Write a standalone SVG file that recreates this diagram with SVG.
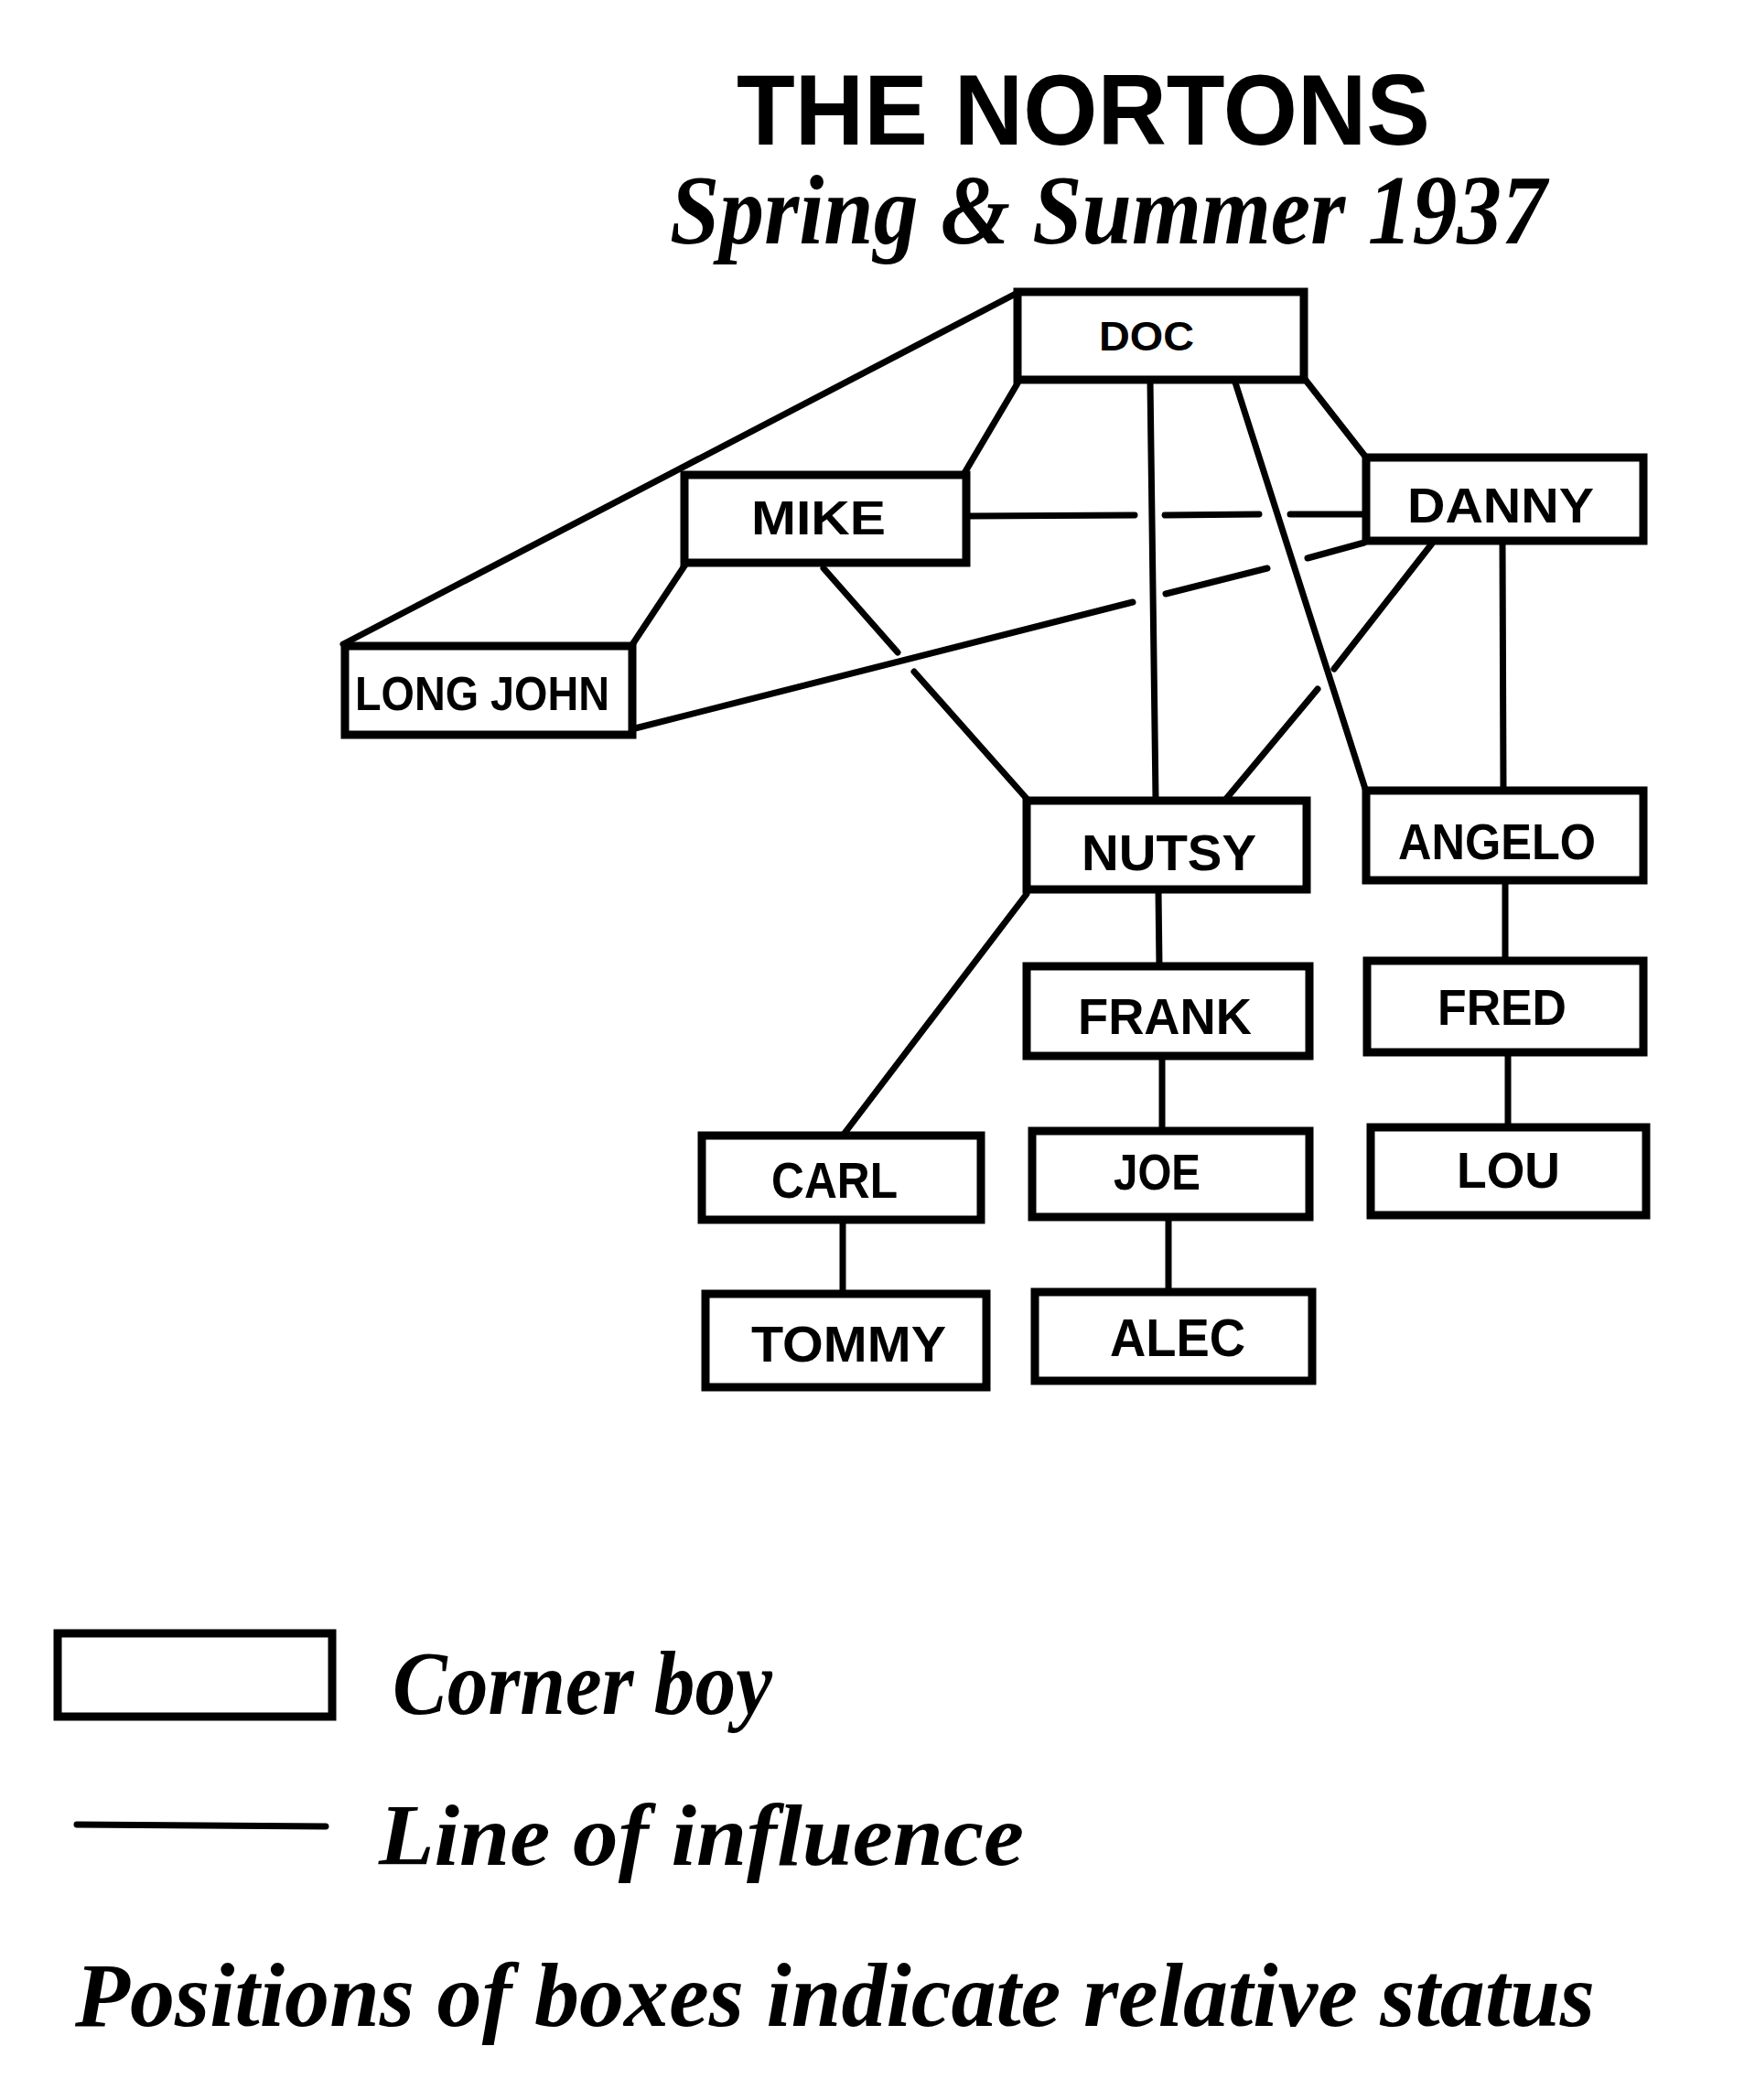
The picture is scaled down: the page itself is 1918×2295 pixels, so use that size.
<svg xmlns="http://www.w3.org/2000/svg" width="1918" height="2295" viewBox="0 0 1918 2295">
<style>
  .box { fill: none; stroke: #000; stroke-width: 9; stroke-linejoin: miter; }
  .lbl { font-family: "Liberation Sans", Arial, sans-serif; font-weight: bold; fill: #000; text-anchor: start; }
  .ln { fill: none; stroke: #000; stroke-width: 7; stroke-linecap: round; }
  .script { font-family: "Liberation Serif", "Times New Roman", serif; font-style: italic; font-weight: bold; fill: #000; }
</style>
<rect width="1918" height="2295" fill="#fff"/>

<text class="lbl" x="805" y="158" font-size="110" textLength="758" lengthAdjust="spacingAndGlyphs">THE NORTONS</text>
<text class="script" x="732" y="266" font-size="108" textLength="958" lengthAdjust="spacingAndGlyphs">Spring &amp; Summer 1937</text>

<g id="connectors">
  <line class="ln" x1="375" y1="704" x2="1110" y2="321"/>
  <line class="ln" x1="1054" y1="517" x2="1112" y2="419"/>
  <line class="ln" x1="749" y1="617" x2="690" y2="706"/>
  <path class="ln" d="M1058 564 L1240 563 M1273 563 L1376 562 M1410 562 L1491 562"/>
  <path class="ln" d="M694 796 L1238 658 M1274 649 L1385 621 M1429 610 L1491 593"/>
  <path class="ln" d="M900 621 L981 713 M999 734 L1124 875"/>
  <line class="ln" x1="1257" y1="417" x2="1263" y2="873"/>
  <line class="ln" x1="1350" y1="418" x2="1492" y2="862"/>
  <line class="ln" x1="1425" y1="413" x2="1493" y2="500"/>
  <path class="ln" d="M1565 594 L1458 731 M1440 753 L1340 873"/>
  <line class="ln" x1="1642" y1="593" x2="1643" y2="864"/>
  <line class="ln" x1="1645" y1="964" x2="1645" y2="1050"/>
  <line class="ln" x1="1648" y1="1152" x2="1648" y2="1232"/>
  <line class="ln" x1="1266" y1="974" x2="1267" y2="1056"/>
  <line class="ln" x1="1270" y1="1156" x2="1270" y2="1236"/>
  <line class="ln" x1="1277" y1="1332" x2="1277" y2="1412"/>
  <line class="ln" x1="1122" y1="977" x2="921" y2="1241"/>
  <line class="ln" x1="921" y1="1335" x2="921" y2="1414"/>
</g>

<g id="node-doc">
  <rect class="box" x="1112" y="319" width="313" height="96"/>
  <text class="lbl" x="1201" y="383" font-size="45" textLength="104" lengthAdjust="spacingAndGlyphs">DOC</text>
</g>
<g id="node-mike">
  <rect class="box" x="748" y="519" width="308" height="96"/>
  <text class="lbl" x="821" y="584" font-size="52" textLength="147" lengthAdjust="spacingAndGlyphs">MIKE</text>
</g>
<g id="node-danny">
  <rect class="box" x="1493" y="500" width="303" height="91"/>
  <text class="lbl" x="1538" y="571" font-size="54" textLength="204" lengthAdjust="spacingAndGlyphs">DANNY</text>
</g>
<g id="node-longjohn">
  <rect class="box" x="377" y="706" width="314" height="97"/>
  <text class="lbl" x="388" y="776" font-size="52" textLength="278" lengthAdjust="spacingAndGlyphs">LONG JOHN</text>
</g>
<g id="node-nutsy">
  <rect class="box" x="1122" y="875" width="306" height="97"/>
  <text class="lbl" x="1182" y="951" font-size="56" textLength="191" lengthAdjust="spacingAndGlyphs">NUTSY</text>
</g>
<g id="node-angelo">
  <rect class="box" x="1493" y="864" width="303" height="98"/>
  <text class="lbl" x="1528" y="939" font-size="56" textLength="216" lengthAdjust="spacingAndGlyphs">ANGELO</text>
</g>
<g id="node-frank">
  <rect class="box" x="1122" y="1056" width="309" height="98"/>
  <text class="lbl" x="1178" y="1130" font-size="56" textLength="190" lengthAdjust="spacingAndGlyphs">FRANK</text>
</g>
<g id="node-fred">
  <rect class="box" x="1494" y="1050" width="302" height="100"/>
  <text class="lbl" x="1571" y="1120" font-size="56" textLength="141" lengthAdjust="spacingAndGlyphs">FRED</text>
</g>
<g id="node-carl">
  <rect class="box" x="767" y="1241" width="305" height="92"/>
  <text class="lbl" x="843" y="1309" font-size="55" textLength="138" lengthAdjust="spacingAndGlyphs">CARL</text>
</g>
<g id="node-joe">
  <rect class="box" x="1128" y="1236" width="303" height="94"/>
  <text class="lbl" x="1217" y="1300" font-size="55" textLength="95" lengthAdjust="spacingAndGlyphs">JOE</text>
</g>
<g id="node-lou">
  <rect class="box" x="1498" y="1232" width="301" height="96"/>
  <text class="lbl" x="1592" y="1298" font-size="55" textLength="113" lengthAdjust="spacingAndGlyphs">LOU</text>
</g>
<g id="node-tommy">
  <rect class="box" x="771" y="1414" width="307" height="102"/>
  <text class="lbl" x="821" y="1488" font-size="55" textLength="213" lengthAdjust="spacingAndGlyphs">TOMMY</text>
</g>
<g id="node-alec">
  <rect class="box" x="1131" y="1412" width="303" height="97"/>
  <text class="lbl" x="1213" y="1482" font-size="58" textLength="148" lengthAdjust="spacingAndGlyphs">ALEC</text>
</g>

<g id="legend">
  <rect class="box" x="63" y="1785" width="300" height="91"/>
  <text class="script" x="429" y="1873" font-size="100" textLength="415" lengthAdjust="spacingAndGlyphs">Corner boy</text>
  <line class="ln" x1="84" y1="1994" x2="356" y2="1996"/>
  <text class="script" x="414" y="2038" font-size="96" textLength="705" lengthAdjust="spacingAndGlyphs">Line of influence</text>
  <text class="script" x="82" y="2214" font-size="100" textLength="1661" lengthAdjust="spacingAndGlyphs">Positions of boxes indicate relative status</text>
</g>
</svg>
